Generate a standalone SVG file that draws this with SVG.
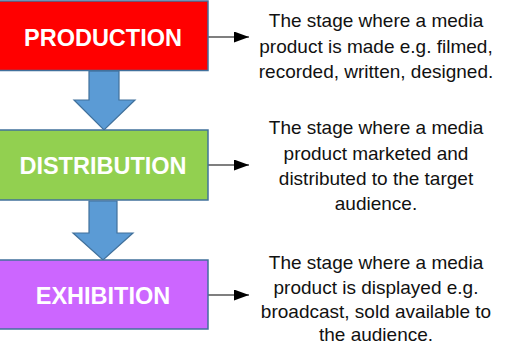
<svg xmlns="http://www.w3.org/2000/svg" width="509" height="345" viewBox="0 0 509 345">
<style>
.box{stroke:#41719C;stroke-width:1.5}
.lbl{font-family:"Liberation Sans",Arial,sans-serif;font-weight:bold;font-size:23.5px;fill:#fff;text-anchor:middle}
.desc{font-family:"Liberation Sans",Arial,sans-serif;font-size:19px;fill:#111;text-anchor:middle}
.blue{fill:#5B9BD5;stroke:#41719C;stroke-width:1.2}
.conn{stroke:#000;stroke-width:1.2;fill:none}
</style>
<defs>
<marker id="ah" viewBox="0 0 10 10" refX="10" refY="5" markerWidth="15" markerHeight="11" markerUnits="userSpaceOnUse" orient="auto" preserveAspectRatio="none">
<path d="M0,0 L10,5 L0,10 Z" fill="#000"/>
</marker>
</defs>
<rect width="509" height="345" fill="#fff"/>
<g id="connectors">
<path class="blue" d="M89,71 H119 V100 H135 L104,130 L74,100 H89 Z"/>
<path class="blue" d="M89,201 H117 V233 H133 L103,260 L73,233 H89 Z"/>
<line class="conn" x1="208" y1="37" x2="249" y2="37" marker-end="url(#ah)"/>
<line class="conn" x1="208" y1="165" x2="249" y2="165" marker-end="url(#ah)"/>
<line class="conn" x1="208" y1="295" x2="249" y2="295" marker-end="url(#ah)"/>
</g>
<g id="production">
<rect class="box" x="-2" y="1" width="210" height="69.5" fill="#FF0000"/>
<text class="lbl" x="103" y="46">PRODUCTION</text>
</g>
<g id="distribution">
<rect class="box" x="-2" y="130" width="210" height="70" fill="#92D050"/>
<text class="lbl" x="103" y="174">DISTRIBUTION</text>
</g>
<g id="exhibition">
<rect class="box" x="-2" y="260" width="210" height="69" fill="#CC66FF"/>
<text class="lbl" x="103" y="304">EXHIBITION</text>
</g>
<g id="desc-production">
<text class="desc" x="376" y="27.3">The stage where a media</text>
<text class="desc" x="376" y="53">product is made e.g. filmed,</text>
<text class="desc" x="376" y="78.3">recorded, written, designed.</text>
</g>
<g id="desc-distribution">
<text class="desc" x="376" y="134.3">The stage where a media</text>
<text class="desc" x="376" y="160">product marketed and</text>
<text class="desc" x="376" y="185">distributed to the target</text>
<text class="desc" x="376" y="210">audience.</text>
</g>
<g id="desc-exhibition">
<text class="desc" x="376" y="269">The stage where a media</text>
<text class="desc" x="376" y="293.5">product is displayed e.g.</text>
<text class="desc" x="376" y="318">broadcast, sold available to</text>
<text class="desc" x="376" y="341">the audience.</text>
</g>
</svg>
